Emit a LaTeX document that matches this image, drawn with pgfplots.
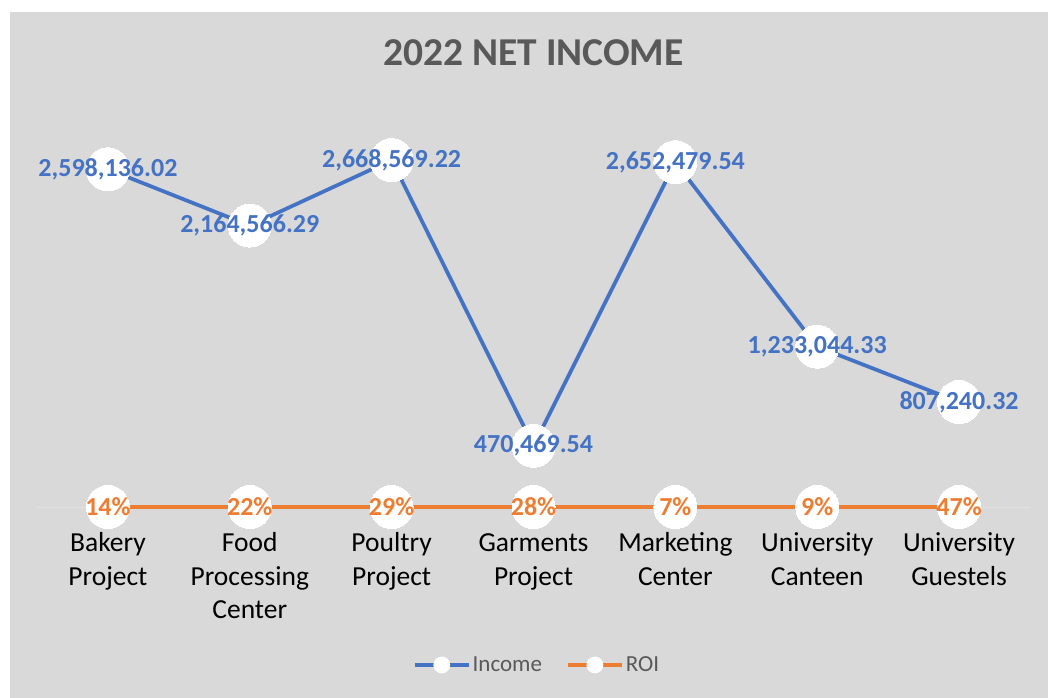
\documentclass[border=0pt]{standalone}
\usepackage{pgfplots}
\pgfplotsset{compat=1.18}
\usepackage{pgfplotstable}
\usepackage{fontspec}
\setmainfont{Carlito}
\definecolor{bg}{HTML}{D9D9D9}
\definecolor{axl}{HTML}{E2E2E2}
\definecolor{inc}{HTML}{4472C4}
\definecolor{roi}{HTML}{ED7D31}
\definecolor{ttl}{HTML}{595959}

\pgfplotstableread{
x y label
0 2598136.02 {2,598,136.02}
1 2164566.29 {2,164,566.29}
2 2668569.22 {2,668,569.22}
3 470469.54 {470,469.54}
4 2652479.54 {2,652,479.54}
5 1233044.33 {1,233,044.33}
6 807240.32 {807,240.32}
}\income
\pgfplotstableread{
x y label
0 0.14 {14\%}
1 0.22 {22\%}
2 0.29 {29\%}
3 0.28 {28\%}
4 0.07 {7\%}
5 0.09 {9\%}
6 0.47 {47\%}
}\roi

\begin{document}
\begin{tikzpicture}
\fill[white] (0bp,0bp) rectangle (1048bp,698bp);
\fill[bg] (10bp,0bp) rectangle (1048bp,686bp);
\begin{axis}[
  at={(37bp,191bp)}, anchor=south west,
  scale only axis, width=993bp, height=390bp,
  xmin=-0.5, xmax=6.5, ymin=0, ymax=3000000,
  clip=false,
  axis x line=bottom, axis y line=none,
  x axis line style={draw=axl, line width=1bp, -},
  xtick={0,...,6}, major tick length=0pt,
  xticklabels={\strut Bakery\\Project, \strut Food\\Processing\\Center, \strut Poultry\\Project, \strut Garments\\Project, \strut Marketing\\Center, \strut University\\Canteen, \strut University\\Guestels},
  xticklabel style={align=center, inner sep=0pt, yshift=-21bp, font=\fontsize{27.5bp}{33.5bp}\selectfont, text=black},
  ytick=\empty,
  title={2022 NET INCOME},
  title style={at={(0.5,1.1487)}, anchor=center, font=\fontsize{39.5bp}{44bp}\selectfont\bfseries, text=ttl},
  legend style={at={(0.5035,-0.405)}, anchor=center, draw=none, fill=none, legend columns=2,
    font=\fontsize{23bp}{26bp}\selectfont, text=ttl, inner sep=0pt,
    /tikz/every even column/.append style={column sep=22bp}},
  nodes near coords, point meta=explicit symbolic,
  nodes near coords style={anchor=center, inner sep=0pt, font=\fontsize{26bp}{30bp}\selectfont\bfseries},
]
\addplot[inc, line width=3.75bp, mark=*, mark size=21.5bp, mark options={fill=white, draw=white, line width=0pt},
  nodes near coords style={text=inc},
  legend image code/.code={\draw[inc, line width=3.75bp] (0bp,0bp) -- (54bp,0bp); \fill[white] (27bp,0bp) circle (6.5bp);}]
  table[x=x, y=y, meta=label] {\income};
\addlegendentry{Income}
\addplot[roi, line width=3.75bp, mark=*, mark size=21.5bp, mark options={fill=white, draw=white, line width=0pt},
  nodes near coords style={text=roi},
  legend image code/.code={\draw[roi, line width=3.75bp] (0bp,0bp) -- (54bp,0bp); \fill[white] (27bp,0bp) circle (6.5bp);}]
  table[x=x, y=y, meta=label] {\roi};
\addlegendentry{ROI}
\end{axis}
\end{tikzpicture}
\end{document}
